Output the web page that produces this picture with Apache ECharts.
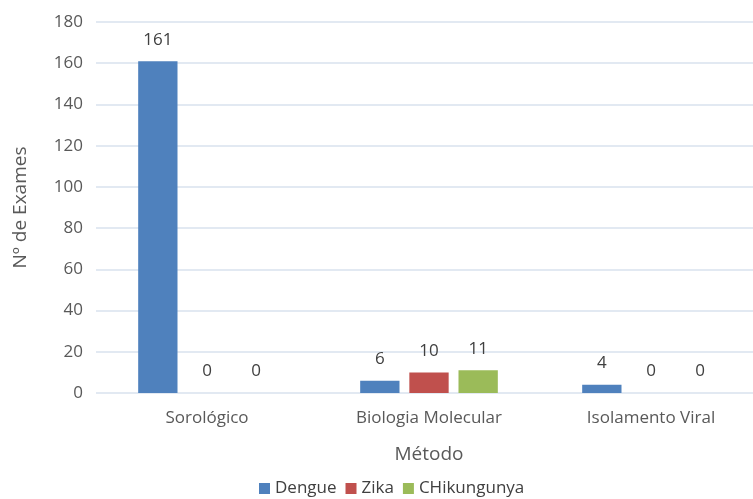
<!DOCTYPE html>
<html>
<head>
<meta charset="utf-8">
<script src="https://cdn.jsdelivr.net/npm/echarts@6/dist/echarts.min.js"></script>
<style>
  html, body { margin: 0; padding: 0; background: #fff; }
  #chart { width: 753px; height: 499px; }
</style>
</head>
<body>
<div id="chart"></div>
<script>
const categories = ['Sorológico', 'Biologia Molecular', 'Isolamento Viral'];
const dengue = [161, 6, 4];
const zika = [0, 10, 0];
const chikungunya = [0, 11, 0];
const yTicks = { min: 0, max: 180, interval: 20 };

const font = '"Open Sans", "Noto Sans", sans-serif';
const labelStyle = {
  show: true,
  position: 'top',
  distance: 13,
  color: '#404040',
  fontSize: 17,
  fontFamily: font
};

const chartInstance = echarts.init(document.getElementById('chart'));

chartInstance.setOption({
  animation: false,
  textStyle: { fontFamily: font },
  grid: { left: 96, right: -9, top: 22, bottom: 106, outerBoundsMode: 'none', containLabel: false },
  legend: {
    top: 475,
    left: 254,
    itemWidth: 11,
    itemHeight: 11,
    itemGap: 9,
    icon: 'rect',
    textStyle: { color: '#404040', fontSize: 17, fontFamily: font },
    data: ['Dengue', 'Zika', 'CHikungunya']
  },
  xAxis: {
    type: 'category',
    data: categories,
    name: 'Método',
    nameLocation: 'middle',
    nameGap: 52,
    nameTextStyle: { color: '#595959', fontSize: 19, fontFamily: font },
    axisLine: { show: false },
    axisTick: { show: false },
    axisLabel: { color: '#595959', fontSize: 17, margin: 17, fontFamily: font },
    splitLine: { show: false }
  },
  yAxis: {
    type: 'value',
    min: yTicks.min,
    max: yTicks.max,
    interval: yTicks.interval,
    name: 'Nº de Exames',
    nameLocation: 'middle',
    nameGap: 66,
    nameTextStyle: { color: '#595959', fontSize: 19, fontFamily: font },
    axisLine: { show: false },
    axisTick: { show: false },
    axisLabel: { color: '#595959', fontSize: 17, margin: 13, fontFamily: font },
    splitLine: { lineStyle: { color: '#D9E2EE', width: 1.5 } }
  },
  series: [
    {
      name: 'Dengue',
      type: 'bar',
      data: dengue,
      barGap: '25%',
      barCategoryGap: '38%',
      itemStyle: { color: '#4F81BD' },
      label: labelStyle
    },
    {
      name: 'Zika',
      type: 'bar',
      data: zika,
      itemStyle: { color: '#C0504D' },
      label: labelStyle
    },
    {
      name: 'CHikungunya',
      type: 'bar',
      data: chikungunya,
      itemStyle: { color: '#9BBB59' },
      label: labelStyle
    }
  ]
});
</script>
</body>
</html>
